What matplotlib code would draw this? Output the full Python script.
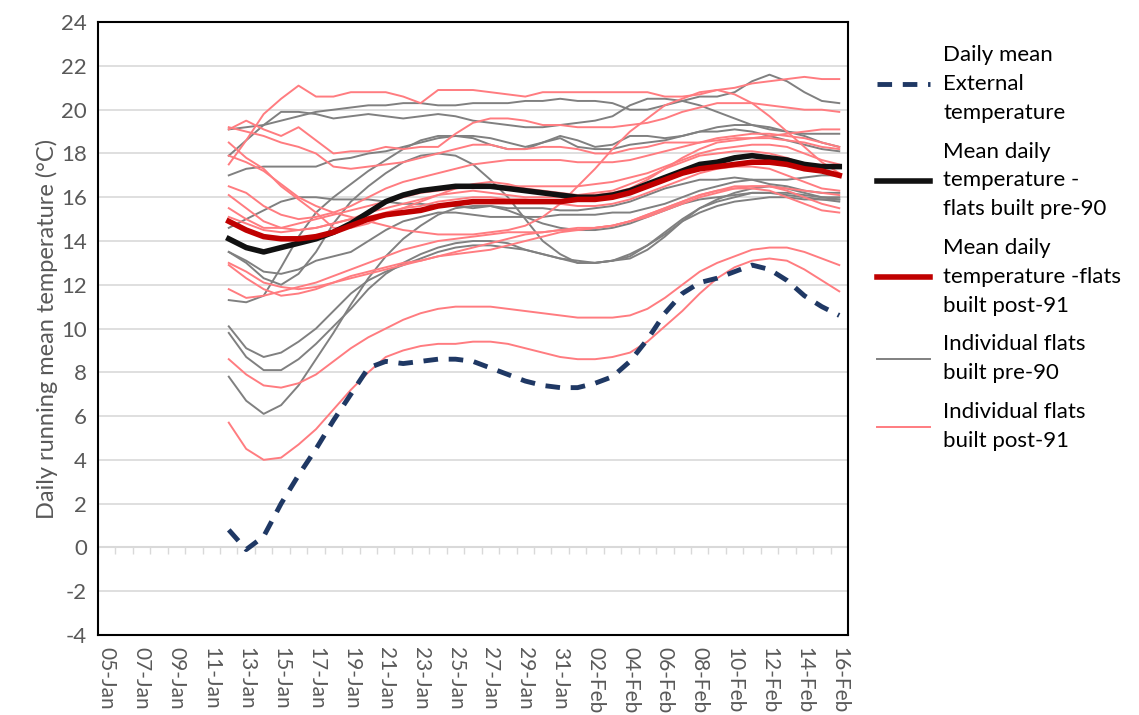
import numpy as np
import pandas as pd
import matplotlib
matplotlib.use("Agg")
import matplotlib.pyplot as plt

plt.rcParams['font.family'] = ['Lato', 'DejaVu Sans']
plt.rcParams['axes.unicode_minus'] = False

all_days = pd.date_range("2019-01-05", "2019-02-16", freq="D")
tick_labels = [d.strftime("%d-%b") for d in all_days]
start_idx = 7  # data starts 12-Jan

external = [0.8, -0.1, 0.5, 2.0, 3.3, 4.5, 5.8, 7.0, 8.2, 8.5, 8.4, 8.5, 8.6, 8.6, 8.5, 8.2, 7.9, 7.6,
            7.4, 7.3, 7.3, 7.5, 7.8, 8.5, 9.5, 10.7, 11.6, 12.1, 12.3, 12.6, 12.9, 12.7, 12.2, 11.5, 11.0, 10.6]
mean_pre90 = [14.1, 13.7, 13.5, 13.7, 13.9, 14.1, 14.4, 14.8, 15.3, 15.8, 16.1, 16.3, 16.4, 16.5, 16.5, 16.5,
              16.4, 16.3, 16.2, 16.1, 16.0, 16.0, 16.1, 16.3, 16.6, 16.9, 17.2, 17.5, 17.6, 17.8, 17.9, 17.8,
              17.7, 17.5, 17.4, 17.4]
mean_post91 = [14.9, 14.5, 14.2, 14.1, 14.1, 14.2, 14.4, 14.7, 15.0, 15.2, 15.3, 15.4, 15.6, 15.7, 15.8, 15.8,
               15.8, 15.8, 15.8, 15.8, 15.9, 15.9, 16.0, 16.2, 16.5, 16.8, 17.1, 17.3, 17.4, 17.5, 17.6, 17.6,
               17.5, 17.3, 17.2, 17.0]

flats_pre90 = [
    [19.1, 19.2, 19.3, 19.5, 19.7, 19.9, 20.0, 20.1, 20.2, 20.2, 20.3, 20.3, 20.2, 20.2, 20.3, 20.3, 20.3, 20.4,
     20.4, 20.5, 20.4, 20.4, 20.3, 20.0, 20.0, 20.2, 20.4, 20.6, 20.6, 20.8, 21.3, 21.6, 21.3, 20.8, 20.4, 20.3],
    [17.9, 18.6, 19.3, 19.9, 19.9, 19.8, 19.6, 19.7, 19.8, 19.7, 19.6, 19.7, 19.8, 19.7, 19.5, 19.4, 19.3, 19.2,
     19.2, 19.3, 19.4, 19.5, 19.7, 20.2, 20.5, 20.5, 20.4, 20.2, 19.9, 19.6, 19.3, 19.1, 19.0, 18.9, 18.9, 18.9],
    [17.0, 17.3, 17.4, 17.4, 17.4, 17.4, 17.7, 17.8, 18.0, 18.1, 18.3, 18.5, 18.7, 18.8, 18.8, 18.7, 18.5, 18.3,
     18.5, 18.8, 18.6, 18.3, 18.4, 18.8, 18.8, 18.7, 18.8, 19.0, 19.0, 19.1, 19.0, 18.8, 18.6, 18.4, 18.2, 18.1],
    [13.5, 13.0, 12.3, 12.0, 12.5, 13.5, 14.8, 15.8, 16.5, 17.1, 17.6, 17.9, 18.0, 17.9, 17.5, 16.8, 16.0, 15.0,
     14.0, 13.4, 13.0, 13.0, 13.1, 13.2, 13.6, 14.2, 14.9, 15.5, 15.9, 16.2, 16.4, 16.5, 16.4, 16.2, 16.0, 15.9],
    [14.6, 15.0, 15.4, 15.8, 16.0, 16.0, 15.9, 15.9, 15.9, 15.8, 15.7, 15.7, 15.6, 15.6, 15.5, 15.6, 15.5, 15.5,
     15.5, 15.4, 15.4, 15.5, 15.6, 15.8, 16.1, 16.4, 16.6, 16.8, 16.8, 16.9, 16.8, 16.6, 16.5, 16.3, 16.2, 16.2],
    [13.5, 13.1, 12.6, 12.5, 12.7, 13.1, 13.3, 13.5, 14.0, 14.5, 14.9, 15.1, 15.3, 15.3, 15.2, 15.1, 15.1, 15.1,
     15.1, 15.2, 15.2, 15.2, 15.3, 15.3, 15.5, 15.7, 16.0, 16.3, 16.5, 16.7, 16.8, 16.8, 16.8, 16.9, 17.0, 17.0],
    [11.3, 11.2, 11.5, 12.8, 14.2, 15.3, 16.0, 16.6, 17.2, 17.7, 18.2, 18.6, 18.8, 18.8, 18.7, 18.4, 18.2, 18.2,
     18.5, 18.7, 18.3, 18.2, 18.2, 18.4, 18.5, 18.6, 18.8, 19.0, 19.2, 19.3, 19.3, 19.2, 19.0, 18.8, 18.5, 18.3],
    [10.1, 9.1, 8.7, 8.9, 9.4, 10.0, 10.8, 11.6, 12.2, 12.6, 12.9, 13.2, 13.5, 13.7, 13.8, 13.8, 13.7, 13.6,
     13.4, 13.2, 13.1, 13.0, 13.1, 13.4, 13.8, 14.3, 14.9, 15.3, 15.6, 15.8, 15.9, 16.0, 16.0, 15.9, 15.9, 15.8],
    [9.8, 8.7, 8.1, 8.1, 8.6, 9.3, 10.1, 10.9, 11.8, 12.5, 13.0, 13.4, 13.7, 13.9, 14.0, 14.0, 13.9, 13.6,
     13.4, 13.2, 13.0, 13.0, 13.1, 13.3, 13.8, 14.4, 15.0, 15.5, 15.8, 16.0, 16.2, 16.2, 16.1, 16.0, 15.9, 15.9],
    [7.8, 6.7, 6.1, 6.5, 7.4, 8.6, 9.8, 11.1, 12.3, 13.3, 14.1, 14.7, 15.2, 15.5, 15.6, 15.6, 15.4, 15.1,
     14.8, 14.6, 14.5, 14.5, 14.6, 14.8, 15.1, 15.4, 15.7, 15.9, 16.0, 16.1, 16.2, 16.2, 16.2, 16.1, 16.0, 16.0],
]

flats_post91 = [
    [17.5, 18.6, 19.8, 20.5, 21.1, 20.6, 20.6, 20.8, 20.8, 20.8, 20.6, 20.3, 20.9, 20.9, 20.9, 20.8, 20.7, 20.6,
     20.8, 20.8, 20.8, 20.8, 20.8, 20.8, 20.8, 20.6, 20.6, 20.7, 20.9, 21.0, 21.2, 21.3, 21.4, 21.5, 21.4, 21.4],
    [19.1, 19.5, 19.1, 18.8, 19.2, 18.6, 18.0, 18.1, 18.1, 18.3, 18.2, 18.3, 18.3, 18.9, 19.4, 19.6, 19.6, 19.5,
     19.3, 19.3, 19.2, 19.2, 19.2, 19.3, 19.4, 19.6, 19.9, 20.1, 20.3, 20.3, 20.3, 20.2, 20.1, 20.0, 20.0, 19.9],
    [19.2, 19.0, 18.8, 18.5, 18.3, 18.0, 17.4, 17.3, 17.4, 17.5, 17.6, 17.8, 18.0, 18.2, 18.4, 18.4, 18.2, 18.2,
     18.3, 18.3, 18.2, 18.0, 18.0, 18.2, 18.3, 18.5, 18.5, 18.5, 18.6, 18.7, 18.7, 18.8, 18.9, 19.0, 19.1, 19.1],
    [18.5, 17.8, 17.3, 16.5, 15.9, 15.3, 14.6, 14.6, 14.8, 15.2, 15.5, 15.8, 16.1, 16.4, 16.6, 16.7, 16.6, 16.4,
     16.3, 16.2, 16.1, 16.1, 16.2, 16.4, 16.8, 17.3, 17.8, 18.2, 18.5, 18.6, 18.7, 18.7, 18.6, 18.5, 18.3, 18.2],
    [17.9, 17.6, 17.2, 16.6, 16.0, 15.6, 15.3, 15.1, 14.9, 14.7, 14.5, 14.4, 14.3, 14.3, 14.3, 14.4, 14.5, 14.7,
     15.1, 15.7, 16.5, 17.3, 18.2, 19.0, 19.6, 20.2, 20.5, 20.8, 20.9, 20.7, 20.3, 19.7, 19.0, 18.3, 17.6, 17.1],
    [16.5, 16.2, 15.6, 15.2, 15.0, 15.1, 15.3, 15.6, 16.0, 16.4, 16.7, 16.9, 17.1, 17.3, 17.5, 17.6, 17.7, 17.7,
     17.7, 17.7, 17.6, 17.6, 17.6, 17.7, 17.9, 18.1, 18.3, 18.5, 18.7, 18.8, 18.9, 18.9, 18.8, 18.7, 18.5, 18.3],
    [15.5, 15.0, 14.6, 14.6, 14.8, 15.0, 15.2, 15.4, 15.6, 15.8, 16.0, 16.2, 16.3, 16.4, 16.5, 16.5, 16.5, 16.5,
     16.5, 16.5, 16.5, 16.6, 16.7, 16.9, 17.1, 17.4, 17.7, 18.0, 18.2, 18.3, 18.4, 18.4, 18.3, 18.0, 17.7, 17.5],
    [15.1, 14.8, 14.5, 14.4, 14.5, 14.6, 14.8, 15.0, 15.1, 15.3, 15.5, 15.6, 15.8, 15.9, 16.0, 16.0, 15.9, 15.9,
     15.8, 15.7, 15.6, 15.6, 15.7, 15.9, 16.2, 16.5, 16.8, 17.1, 17.3, 17.4, 17.4, 17.3, 17.0, 16.7, 16.4, 16.3],
    [13.0, 12.6, 12.1, 11.9, 11.8, 11.9, 12.1, 12.3, 12.5, 12.7, 12.9, 13.1, 13.3, 13.5, 13.7, 13.9, 14.1, 14.3,
     14.4, 14.5, 14.5, 14.6, 14.7, 14.9, 15.2, 15.5, 15.8, 16.1, 16.3, 16.4, 16.4, 16.3, 16.0, 15.7, 15.4, 15.3],
    [11.8, 11.4, 11.5, 11.7, 11.9, 12.1, 12.4, 12.7, 13.0, 13.3, 13.6, 13.8, 14.0, 14.1, 14.2, 14.3, 14.4, 14.4,
     14.4, 14.5, 14.6, 14.6, 14.7, 14.9, 15.2, 15.5, 15.8, 16.1, 16.3, 16.5, 16.5, 16.5, 16.3, 16.0, 15.7, 15.5],
    [12.9, 12.3, 11.8, 11.5, 11.6, 11.8, 12.1, 12.4, 12.6, 12.8, 13.0, 13.1, 13.3, 13.4, 13.5, 13.6, 13.8, 14.0,
     14.2, 14.4, 14.5, 14.6, 14.7, 14.9, 15.1, 15.4, 15.7, 16.0, 16.2, 16.4, 16.5, 16.5, 16.4, 16.3, 16.2, 16.1],
    [8.6, 7.9, 7.4, 7.3, 7.5, 7.9, 8.5, 9.1, 9.6, 10.0, 10.4, 10.7, 10.9, 11.0, 11.0, 11.0, 10.9, 10.8,
     10.7, 10.6, 10.5, 10.5, 10.5, 10.6, 10.9, 11.4, 12.0, 12.6, 13.0, 13.3, 13.6, 13.7, 13.7, 13.5, 13.2, 12.9],
    [5.7, 4.5, 4.0, 4.1, 4.7, 5.4, 6.3, 7.2, 8.0, 8.7, 9.0, 9.2, 9.3, 9.3, 9.4, 9.4, 9.3, 9.1,
     8.9, 8.7, 8.6, 8.6, 8.7, 8.9, 9.4, 10.1, 10.8, 11.6, 12.3, 12.8, 13.1, 13.2, 13.1, 12.7, 12.2, 11.7],
    [16.1, 15.5, 14.9, 14.6, 14.5, 14.6, 14.8, 15.0, 15.3, 15.5, 15.7, 15.9, 16.1, 16.2, 16.3, 16.2, 16.1, 16.0,
     16.0, 16.0, 16.1, 16.2, 16.3, 16.6, 16.9, 17.3, 17.6, 17.9, 18.0, 18.1, 18.1, 18.0, 17.8, 17.5, 17.2, 17.0],
]

x = np.arange(start_idx, start_idx + len(external))

fig = plt.figure(figsize=(11.39, 7.15), dpi=100)
ax = fig.add_axes([0.086, 0.112, 0.6585, 0.857])

for i, s in enumerate(flats_pre90):
    ax.plot(x, s, color='#808080', lw=1.4, label='Individual flats\nbuilt pre-90' if i == 0 else None, zorder=2)
for i, s in enumerate(flats_post91):
    ax.plot(x, s, color='#FF7C80', lw=1.4, label='Individual flats\nbuilt post-91' if i == 0 else None, zorder=2)
ax.plot(x, mean_pre90, color='#111111', lw=4, label='Mean daily\ntemperature -\nflats built pre-90', zorder=3)
ax.plot(x, mean_post91, color='#C00000', lw=4, label='Mean daily\ntemperature -flats\nbuilt post-91', zorder=3)
ax.plot(x, external, color='#1F3864', lw=3.5, dashes=(3, 2.2), label='Daily mean\nExternal\ntemperature', zorder=4)

ax.set_xlim(-0.5, len(all_days) - 0.5)
ax.set_ylim(-4, 24)
ax.set_yticks(range(-4, 25, 2))
ax.yaxis.grid(True, color='#D9D9D9', lw=1.2)
ax.set_axisbelow(True)
ax.set_xticks(range(0, len(all_days), 2))
ax.set_xticklabels(tick_labels[::2], rotation=-90, fontsize=15, color='#595959')
ax.tick_params(axis='x', length=0, pad=9)
ax.tick_params(axis='y', length=0, labelsize=16, labelcolor='#595959', pad=8)
for sp in ax.spines.values():
    sp.set_color('black')
    sp.set_linewidth(1.5)

# category axis crossing at zero, with daily tick marks
ax.axhline(0, color='#D9D9D9', lw=1.5, zorder=1)
ax.vlines(np.arange(-0.5, len(all_days)), -0.3, 0, color='#D9D9D9', lw=1, zorder=1)

ax.set_ylabel('Daily running mean temperature (°C)', fontsize=17, color='#595959', labelpad=2)

h, l = ax.get_legend_handles_labels()
order = [4, 2, 3, 0, 1]
leg = fig.legend([h[i] for i in order], [l[i] for i in order], loc='upper left',
                 bbox_to_anchor=(0.752, 0.965), frameon=False, fontsize=16,
                 handlelength=2.4, labelspacing=0.85, handletextpad=0.6)
for t in leg.get_texts():
    t.set_linespacing(1.55)

fig.savefig('out.png', dpi=100)
